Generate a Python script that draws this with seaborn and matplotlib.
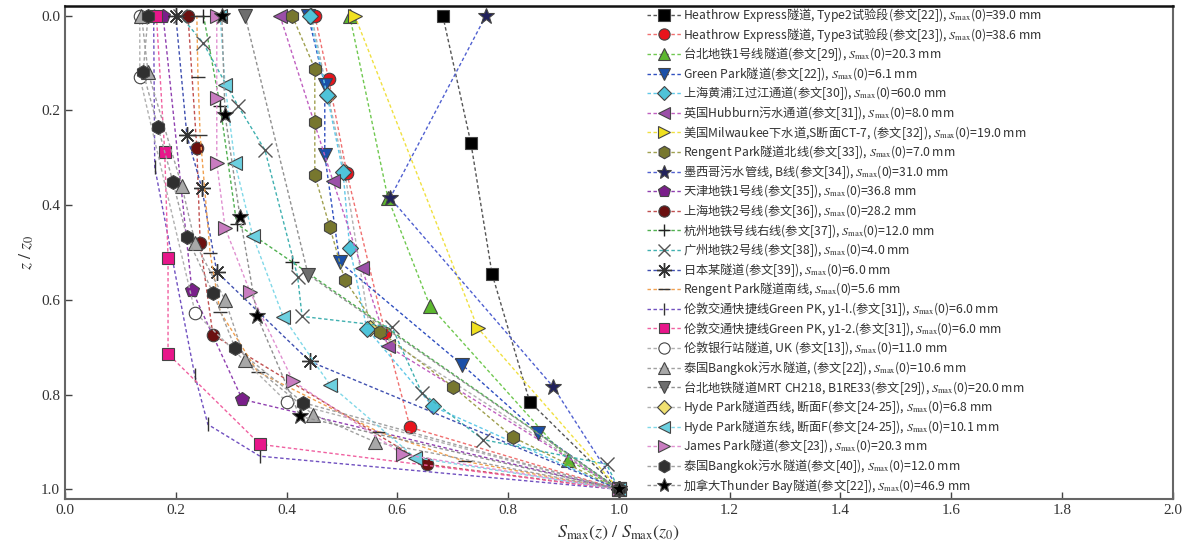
import matplotlib
matplotlib.use("Agg")
import matplotlib.pyplot as plt
import seaborn as sns
from matplotlib.font_manager import FontProperties

sns.set_style("ticks")
plt.rcParams["font.family"] = ["Liberation Serif", "Noto Sans CJK SC"]
plt.rcParams["mathtext.fontset"] = "stix"

# ---- data: S_max(z)/S_max(z0) (x) vs z/z0 (z) ----
heathrow_t2_x = [0.682, 0.733, 0.771, 0.839, 1.0]
heathrow_t2_z = [0.0, 0.27, 0.545, 0.815, 1.0]
heathrow_t3_x = [0.451, 0.476, 0.509, 0.578, 0.623, 1.0]
heathrow_t3_z = [0.0, 0.135, 0.333, 0.67, 0.869, 1.0]
taipei1_x = [0.514, 0.583, 0.659, 0.908, 1.0]
taipei1_z = [0.0, 0.385, 0.613, 0.937, 1.0]
green_park_x = [0.439, 0.469, 0.469, 0.496, 0.717, 0.854, 1.0]
green_park_z = [0.0, 0.147, 0.295, 0.52, 0.737, 0.88, 1.0]
huangpu_x = [0.442, 0.473, 0.502, 0.514, 0.545, 0.664, 1.0]
huangpu_z = [0.0, 0.168, 0.33, 0.49, 0.661, 0.825, 1.0]
hubburn_x = [0.388, 0.484, 0.536, 0.583, 1.0]
hubburn_z = [0.0, 0.35, 0.533, 0.698, 1.0]
milwaukee_x = [0.523, 0.745, 1.0]
milwaukee_z = [0.0, 0.659, 1.0]
rengent_n_x = [0.41, 0.451, 0.451, 0.451, 0.478, 0.505, 0.569, 0.70, 0.809, 1.0]
rengent_n_z = [0.0, 0.112, 0.225, 0.337, 0.446, 0.558, 0.667, 0.783, 0.89, 1.0]
mexico_x = [0.76, 0.587, 0.881, 1.0]
mexico_z = [0.0, 0.385, 0.783, 1.0]
tianjin_x = [0.177, 0.229, 0.32, 1.0]
tianjin_z = [0.0, 0.579, 0.81, 1.0]
shanghai2_x = [0.222, 0.238, 0.244, 0.267, 0.653, 1.0]
shanghai2_z = [0.0, 0.28, 0.48, 0.674, 0.947, 1.0]
hangzhou_x = [0.25, 0.28, 0.31, 0.41, 1.0]
hangzhou_z = [0.0, 0.19, 0.44, 0.52, 1.0]
guangzhou_x = [0.208, 0.249, 0.312, 0.361, 0.42, 0.428, 0.59, 0.644, 0.755, 0.978, 1.0]
guangzhou_z = [0.0, 0.057, 0.19, 0.284, 0.551, 0.635, 0.657, 0.796, 0.895, 0.947, 1.0]
japan_x = [0.2, 0.22, 0.247, 0.274, 0.442, 1.0]
japan_z = [0.0, 0.253, 0.364, 0.541, 0.73, 1.0]
rengent_s_x = [0.238, 0.24, 0.244, 0.262, 0.28, 0.348, 0.565, 0.722, 1.0]
rengent_s_z = [0.0, 0.13, 0.253, 0.501, 0.625, 0.752, 0.878, 0.941, 1.0]
gpk_y11_x = [0.16, 0.162, 0.234, 0.258, 0.352, 1.0]
gpk_y11_z = [0.0, 0.32, 0.758, 0.863, 0.93, 1.0]
gpk_y12_x = [0.165, 0.18, 0.186, 0.186, 0.352, 1.0]
gpk_y12_z = [0.0, 0.288, 0.512, 0.714, 0.905, 1.0]
bank_x = [0.135, 0.135, 0.235, 0.40, 1.0]
bank_z = [0.0, 0.13, 0.627, 0.815, 1.0]
bangkok22_x = [0.138, 0.15, 0.211, 0.235, 0.289, 0.325, 0.448, 0.56, 1.0]
bangkok22_z = [0.0, 0.12, 0.36, 0.48, 0.60, 0.726, 0.842, 0.90, 1.0]
ch218_x = [0.325, 0.439, 1.0]
ch218_z = [0.0, 0.547, 1.0]
hyde_w_x = [0.445, 0.475, 0.505, 0.55, 1.0]
hyde_w_z = [0.0, 0.17, 0.33, 0.66, 1.0]
hyde_e_x = [0.28, 0.289, 0.307, 0.339, 0.394, 0.478, 0.632, 1.0]
hyde_e_z = [0.0, 0.147, 0.312, 0.465, 0.636, 0.779, 0.933, 1.0]
james_x = [0.274, 0.274, 0.274, 0.289, 0.334, 0.412, 0.61, 1.0]
james_z = [0.0, 0.175, 0.312, 0.448, 0.583, 0.772, 0.926, 1.0]
bangkok40_x = [0.15, 0.141, 0.168, 0.195, 0.22, 0.267, 0.307, 0.43, 1.0]
bangkok40_z = [0.0, 0.12, 0.236, 0.352, 0.467, 0.585, 0.701, 0.817, 1.0]
thunder_x = [0.283, 0.289, 0.316, 0.347, 0.424, 1.0]
thunder_z = [0.0, 0.21, 0.425, 0.635, 0.846, 1.0]

S = r"$S_{\mathrm{max}}$"
labels = [
    f"Heathrow Express隧道, Type2试验段(参文[22]), {S}(0)=39.0 mm",
    f"Heathrow Express隧道, Type3试验段(参文[23]), {S}(0)=38.6 mm",
    f"台北地铁1号线隧道(参文[29]), {S}(0)=20.3 mm",
    f"Green Park隧道(参文[22]), {S}(0)=6.1 mm",
    f"上海黄浦江过江通道(参文[30]), {S}(0)=60.0 mm",
    f"英国Hubburn污水通道(参文[31]), {S}(0)=8.0 mm",
    f"美国Milwaukee下水道,S断面CT-7, (参文[32]), {S}(0)=19.0 mm",
    f"Rengent Park隧道北线(参文[33]), {S}(0)=7.0 mm",
    f"墨西哥污水管线, B线(参文[34]), {S}(0)=31.0 mm",
    f"天津地铁1号线(参文[35]), {S}(0)=36.8 mm",
    f"上海地铁2号线(参文[36]), {S}(0)=28.2 mm",
    f"杭州地铁号线右线(参文[37]), {S}(0)=12.0 mm",
    f"广州地铁2号线(参文[38]), {S}(0)=4.0 mm",
    f"日本某隧道(参文[39]), {S}(0)=6.0 mm",
    f"Rengent Park隧道南线, {S}(0)=5.6 mm",
    f"伦敦交通快捷线Green PK, y1-l.(参文[31]), {S}(0)=6.0 mm",
    f"伦敦交通快捷线Green PK, y1-2.(参文[31]), {S}(0)=6.0 mm",
    f"伦敦银行站隧道, UK (参文[13]), {S}(0)=11.0 mm",
    f"泰国Bangkok污水隧道, (参文[22]), {S}(0)=10.6 mm",
    f"台北地铁隧道MRT CH218, B1RE33(参文[29]), {S}(0)=20.0 mm",
    f"Hyde Park隧道西线, 断面F(参文[24-25]), {S}(0)=6.8 mm",
    f"Hyde Park隧道东线, 断面F(参文[24-25]), {S}(0)=10.1 mm",
    f"James Park隧道(参文[23]), {S}(0)=20.3 mm",
    f"泰国Bangkok污水隧道(参文[40]), {S}(0)=12.0 mm",
    f"加拿大Thunder Bay隧道(参文[22]), {S}(0)=46.9 mm",
]

series = [
    (heathrow_t2_x, heathrow_t2_z), (heathrow_t3_x, heathrow_t3_z),
    (taipei1_x, taipei1_z), (green_park_x, green_park_z),
    (huangpu_x, huangpu_z), (hubburn_x, hubburn_z),
    (milwaukee_x, milwaukee_z), (rengent_n_x, rengent_n_z),
    (mexico_x, mexico_z), (tianjin_x, tianjin_z),
    (shanghai2_x, shanghai2_z), (hangzhou_x, hangzhou_z),
    (guangzhou_x, guangzhou_z), (japan_x, japan_z),
    (rengent_s_x, rengent_s_z), (gpk_y11_x, gpk_y11_z),
    (gpk_y12_x, gpk_y12_z), (bank_x, bank_z),
    (bangkok22_x, bangkok22_z), (ch218_x, ch218_z),
    (hyde_w_x, hyde_w_z), (hyde_e_x, hyde_e_z),
    (james_x, james_z), (bangkok40_x, bangkok40_z),
    (thunder_x, thunder_z),
]

# ---- styles ----
markers = ["s", "o", "^", "v", "D", "<", ">", "h", "*", "p", "o", "+", "x",
           (8, 2, 0), "_", "|", "s", "o", "^", "v", "D", "<", ">", "h", "*"]
face_colors = ["#000000", "#e8141c", "#5cb82e", "#1a4fa8", "#4fc3d9", "#9b4fa8",
               "#f0e020", "#77772e", "#22225c", "#7a1f8a", "#6b1010", "#222222",
               "#555555", "#333333", "#333333", "#333333", "#e8168a", "#ffffff",
               "#a8a8a8", "#6e6e6e", "#f0e070", "#6cd0e0", "#c87cc0", "#303030",
               "#000000"]
line_colors = ["#555555", "#f07070", "#70c850", "#3050c0", "#60c8e8", "#c060c0",
               "#f0e040", "#a0a050", "#5060d0", "#9040b0", "#c05050", "#50b050",
               "#40b0b0", "#4050b0", "#f0a050", "#7050c0", "#f060a0", "#b0b0b0",
               "#a0a0a0", "#909090", "#b0b0b0", "#80d8e8", "#e090d0", "#a0a0a0",
               "#909090"]
sizes = [9, 9, 10, 10, 8, 10, 10, 10, 12, 10, 9, 10, 10, 12, 10, 10, 8, 9,
         10, 10, 8, 10, 10, 10, 12]

fig = plt.figure(figsize=(11.93, 5.5), dpi=100)
ax = fig.add_axes([0.0545, 0.093, 0.9285, 0.896])

for i, ((xs, zs), lab) in enumerate(zip(series, labels)):
    line_marker = markers[i] in ("+", "x", "_", "|") or isinstance(markers[i], tuple)
    sns.lineplot(x=xs, y=zs, ax=ax, sort=False, estimator=None,
                 color=line_colors[i], linestyle=(0, (2.5, 1.8)), linewidth=1.0,
                 marker=markers[i], markersize=sizes[i],
                 markerfacecolor=face_colors[i],
                 markeredgecolor=face_colors[i] if line_marker else "#444444",
                 markeredgewidth=1.0 if line_marker else 0.8,
                 label=lab, zorder=3 if i != 20 else 2)

ax.set_xlim(0, 2.0)
ax.set_ylim(1.02, -0.02)
ax.set_xticks([0.0, 0.2, 0.4, 0.6, 0.8, 1.0, 1.2, 1.4, 1.6, 1.8, 2.0])
ax.set_yticks([0.0, 0.2, 0.4, 0.6, 0.8, 1.0])
ax.xaxis.set_major_formatter(matplotlib.ticker.FormatStrFormatter("%.1f"))
ax.yaxis.set_major_formatter(matplotlib.ticker.FormatStrFormatter("%.1f"))
ax.tick_params(direction="in", length=5, width=1.0, labelsize=11,
               colors="#444444", labelcolor="#333333")
for side in ["left", "bottom", "right"]:
    ax.spines[side].set_color("#666666")
    ax.spines[side].set_linewidth(1.5)
ax.spines["top"].set_color("#111111")
ax.spines["top"].set_linewidth(1.8)

ax.set_xlabel(r"$S_{\mathrm{max}}(z)\ /\ S_{\mathrm{max}}(z_0)$", fontsize=13,
              color="#333333", labelpad=5)
ax.set_ylabel(r"$z\ /\ z_0$", fontsize=13, color="#333333", labelpad=4)

leg = ax.legend(loc="upper left", bbox_to_anchor=(0.523, 1.005), frameon=False,
                prop=FontProperties(family="Noto Sans CJK SC", size=8.8),
                labelspacing=0.135, handlelength=2.8, handletextpad=0.2,
                borderaxespad=0.0, borderpad=0.2, markerscale=0.9)
for t in leg.get_texts():
    t.set_color("#333333")

fig.savefig("out.png", dpi=100)
